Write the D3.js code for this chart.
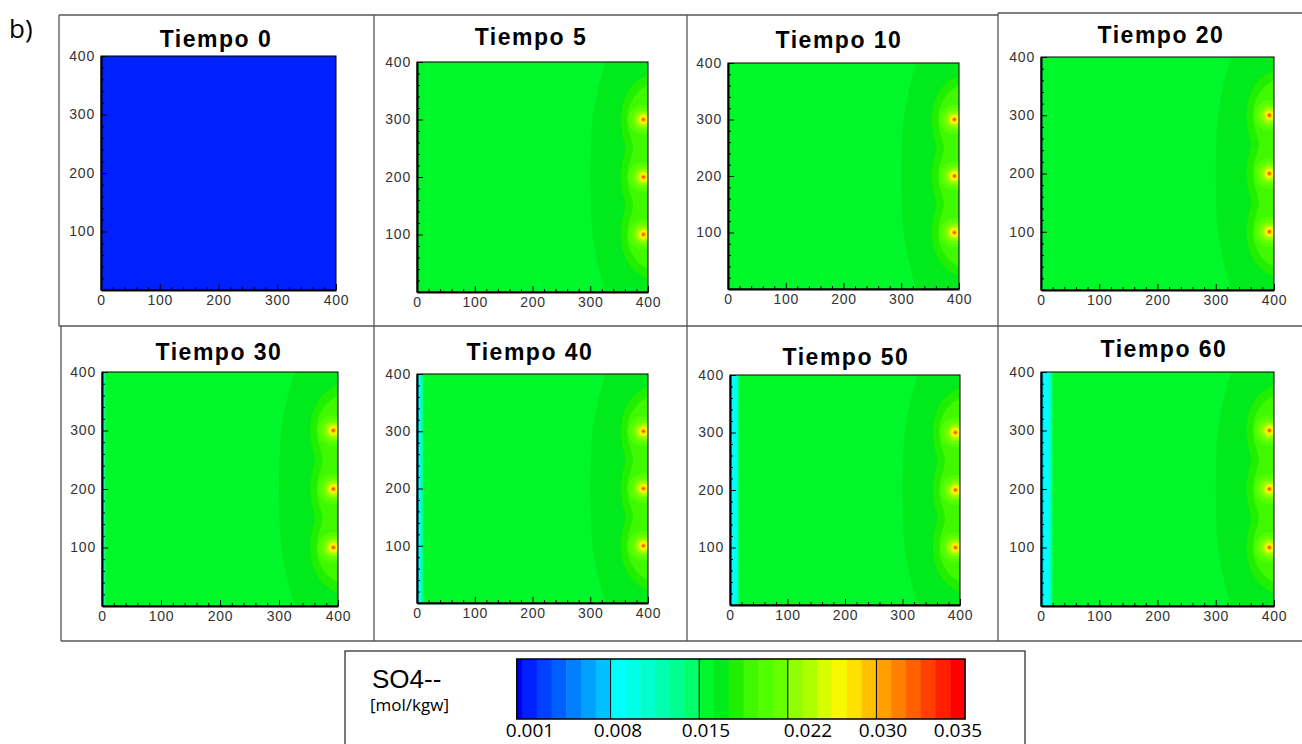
<!DOCTYPE html>
<html>
<head>
<meta charset="utf-8">
<script src="https://cdn.jsdelivr.net/npm/d3@7/dist/d3.min.js"></script>
<style>
  body { margin: 0; background: #fff; }
  svg { display: block; }
</style>
</head>
<body>
<script>
//Panel times (years) - one map per time step
var times = [0, 5, 10, 20, 30, 40, 50, 60];
var titles = times.map(function(t) { return "Tiempo " + t; });

//Background SO4-- concentration of each map (mol/kgw)
var baseConc = [0.0012, 0.015, 0.015, 0.015, 0.015, 0.015, 0.015, 0.015];

//Left boundary front: concentration levels and how far (m) each reaches per panel
var stripLevels = [0.0135, 0.0125, 0.0113, 0.0100, 0.0088, 0.0075];
var stripWidths = [
  [0, 0, 0, 0, 0, 0],
  [0, 0, 0, 0, 0, 0],
  [0, 0, 0, 0, 0, 0],
  [2.5, 2, 1.5, 1, 0.5, 0],
  [6, 5, 4, 3, 2, 0.8],
  [11, 10, 9, 7.5, 5, 1.5],
  [16, 15, 13.5, 12, 9, 2.5],
  [20, 18.5, 17, 15.5, 13, 4]
];

//Right side plume is there from Tiempo 5 on
var hasPlume = [false, true, true, true, true, true, true, true];

//Outer plume front (x, y in m)
var frontConc = 0.0162;
var frontPts = [[326, 0], [313, 50], [304, 100], [300, 200], [304, 300], [313, 350], [326, 400]];

//Wavy contours around the three injection wells
var lobeOuterConc = 0.0175;
var lobeOuterPts = [[400, 22], [386, 30], [372, 42], [361, 60], [355, 80], [353, 100], [355, 122], [359, 140],
  [361, 150], [359, 160], [355, 178], [353, 200], [355, 222], [359, 240], [361, 250], [359, 260], [355, 278],
  [353, 300], [355, 320], [361, 340], [372, 358], [386, 370], [400, 378]];
var lobeMidConc = 0.0185;
var lobeMidPts = [[400, 40], [385, 50], [373, 65], [366, 82], [364, 100], [366, 118], [371, 135], [374, 150],
  [371, 165], [366, 182], [364, 200], [366, 218], [371, 235], [374, 250], [371, 265], [366, 282], [364, 300],
  [366, 318], [373, 335], [385, 350], [400, 360]];

//Wells and the rings of concentration round them
var wellX = [392, 392, 392];
var wellY = [100, 200, 300];
var ringConc = [0.0197, 0.0208, 0.022, 0.0232, 0.0243, 0.0255, 0.0267, 0.0278, 0.0303, 0.0326];
var ringRadius = [26, 20, 15, 11, 8.5, 6.5, 5, 3.8, 2.8, 1.8];

//Axes
var xTicks = [0, 100, 200, 300, 400];
var yTicks = [100, 200, 300, 400];
var minorTicks = d3.range(20, 400, 20).filter(function(d) { return d % 100 !== 0; });

//Legend
var legendMin = 0.001, legendMax = 0.035, legendUnder = 0.0006;
var legendTicks = [0.001, 0.008, 0.015, 0.022, 0.030, 0.035];
var legendTickLabels = ["0.001", "0.008", "0.015", "0.022", "0.030", "0.035"];
var legendTitle = "SO4--";
var legendUnit = "[mol/kgw]";

//Colour bands of the scale (30 bands plus the under colour)
var underColour = "#0000e6";
var bandColours = [
  "#0020ff", "#0040ff", "#0060ff", "#0080ff", "#00a0ff", "#00c0ff",
  "#00ffff", "#00ffe6", "#00ffcc", "#00ffb0", "#00ff90", "#00ff6a",
  "#00f82a", "#00ea1c", "#20f000", "#40f800", "#50ff00", "#68ff00",
  "#90ff00", "#b0ff00", "#d8ff00", "#f8f800", "#ffe000", "#ffc000",
  "#ffa000", "#ff8000", "#ff6000", "#ff4000", "#ff2000", "#ff0000"
];
var colour = d3.scaleQuantize().domain([legendMin, legendMax]).range(bandColours);

//Where every panel sits in the composite (plot box and title)
var layout = [
  { x0: 101, x1: 336, y0: 56, y1: 290, tx: 216, ty: 47 },
  { x0: 417, x1: 648, y0: 62, y1: 292, tx: 531, ty: 45 },
  { x0: 728, x1: 959, y0: 63, y1: 289, tx: 839, ty: 48 },
  { x0: 1041, x1: 1274, y0: 57, y1: 290, tx: 1161, ty: 43 },
  { x0: 102, x1: 338, y0: 372, y1: 606, tx: 219, ty: 360 },
  { x0: 417, x1: 648, y0: 374, y1: 603, tx: 530, ty: 360 },
  { x0: 730, x1: 960, y0: 375, y1: 605, tx: 846, ty: 365 },
  { x0: 1041, x1: 1274, y0: 372, y1: 606, tx: 1164, ty: 357 }
];

var width = 1302, height = 744;

var svg = d3.select("body").append("svg")
  .attr("width", width)
  .attr("height", height);

//Frames round the panels
var gridLines = [
  [59, 15, 998, 15], [998, 13, 1302, 13],
  [59, 15, 59, 326], [374, 15, 374, 641], [687, 15, 687, 641], [998, 13, 998, 641],
  [59, 326, 1302, 326], [61, 326, 61, 641], [61, 641, 1302, 641]
];
svg.selectAll(".grid")
  .data(gridLines)
  .enter().append("line")
  .attr("class", "grid")
  .attr("x1", function(d) { return d[0]; })
  .attr("y1", function(d) { return d[1]; })
  .attr("x2", function(d) { return d[2]; })
  .attr("y2", function(d) { return d[3]; })
  .attr("stroke", "#555")
  .attr("stroke-width", 1.3);

svg.append("text")
  .attr("x", 9)
  .attr("y", 38)
  .style("font-family", "'Open Sans', sans-serif")
  .style("font-size", "26px")
  .text("b)");

times.forEach(function(t, i) {
  var L = layout[i];
  var x = d3.scaleLinear().domain([0, 400]).range([L.x0, L.x1]);
  var y = d3.scaleLinear().domain([0, 400]).range([L.y1, L.y0]);

  var g = svg.append("g").attr("class", "panel");

  g.append("clipPath")
    .attr("id", "clip" + i)
    .append("rect")
    .attr("x", L.x0).attr("y", L.y0)
    .attr("width", L.x1 - L.x0).attr("height", L.y1 - L.y0);

  var field = g.append("g").attr("clip-path", "url(#clip" + i + ")");

  //background
  field.append("rect")
    .attr("x", x(0)).attr("y", y(400))
    .attr("width", x(400) - x(0)).attr("height", y(0) - y(400))
    .attr("fill", colour(baseConc[i]));

  //left boundary front
  field.selectAll(".strip")
    .data(stripLevels.map(function(c, k) { return { conc: c, w: stripWidths[i][k] }; })
      .filter(function(d) { return d.w > 0; }))
    .enter().append("rect")
    .attr("class", "strip")
    .attr("x", x(0)).attr("y", y(400))
    .attr("width", function(d) { return x(d.w) - x(0); })
    .attr("height", y(0) - y(400))
    .attr("fill", function(d) { return colour(d.conc); });

  if (hasPlume[i]) {
    var line = d3.line()
      .x(function(d) { return x(d[0]); })
      .y(function(d) { return y(d[1]); })
      .curve(d3.curveCatmullRom);

    //outer front, closed along the right side
    field.append("path")
      .attr("d", line(frontPts) + "L" + x(400) + "," + y(400) + "L" + x(400) + "," + y(0) + "Z")
      .attr("fill", colour(frontConc));

    field.append("path")
      .attr("d", line(lobeOuterPts) + "Z")
      .attr("fill", colour(lobeOuterConc));

    field.append("path")
      .attr("d", line(lobeMidPts) + "Z")
      .attr("fill", colour(lobeMidConc));

    ringConc.forEach(function(c, k) {
      field.selectAll(".ring" + k)
        .data(wellY)
        .enter().append("ellipse")
        .attr("class", "ring" + k)
        .attr("cx", function(d, j) { return x(wellX[j]); })
        .attr("cy", function(d) { return y(d); })
        .attr("rx", x(ringRadius[k]) - x(0))
        .attr("ry", y(0) - y(ringRadius[k]))
        .attr("fill", colour(c));
    });
  }

  //frame
  g.append("rect")
    .attr("x", L.x0).attr("y", L.y0)
    .attr("width", L.x1 - L.x0).attr("height", L.y1 - L.y0)
    .attr("fill", "none")
    .attr("stroke", "#000")
    .attr("stroke-width", 1);

  //minor ticks
  g.append("g")
    .attr("transform", "translate(0," + L.y1 + ")")
    .call(d3.axisBottom(x).tickValues(minorTicks).tickSize(-3).tickSizeOuter(0).tickFormat(""))
    .call(function(a) { a.select(".domain").remove(); });
  g.append("g")
    .attr("transform", "translate(" + L.x0 + ",0)")
    .call(d3.axisLeft(y).tickValues(minorTicks).tickSize(-3).tickSizeOuter(0).tickFormat(""))
    .call(function(a) { a.select(".domain").remove(); });

  //major ticks and labels
  var xa = g.append("g")
    .attr("transform", "translate(0," + L.y1 + ")")
    .call(d3.axisBottom(x).tickValues(xTicks).tickSize(-6).tickSizeOuter(0).tickPadding(5).tickFormat(d3.format("d")));
  var ya = g.append("g")
    .attr("transform", "translate(" + L.x0 + ",0)")
    .call(d3.axisLeft(y).tickValues(yTicks).tickSize(-6).tickSizeOuter(0).tickPadding(6).tickFormat(d3.format("d")));

  [xa, ya].forEach(function(a) {
    a.select(".domain").attr("stroke", "#000").attr("stroke-width", 2);
    a.selectAll("text")
      .attr("fill", "#333")
      .style("font-family", "'Liberation Sans', Arial, sans-serif")
      .style("font-size", "14px")
      .style("letter-spacing", "0.8px");
  });

  g.append("text")
    .attr("x", L.tx)
    .attr("y", L.ty)
    .attr("text-anchor", "middle")
    .style("font-family", "'Liberation Sans', Arial, sans-serif")
    .style("font-weight", "bold")
    .style("font-size", "23px")
    .style("letter-spacing", "1.5px")
    .text(titles[i]);
});

//Legend
var leg = svg.append("g").attr("class", "legend");
leg.append("rect")
  .attr("x", 345).attr("y", 651)
  .attr("width", 680).attr("height", 110)
  .attr("fill", "#fff")
  .attr("stroke", "#222")
  .attr("stroke-width", 1.2);

leg.append("text")
  .attr("x", 372).attr("y", 688)
  .style("font-family", "'Liberation Sans', Arial, sans-serif")
  .style("font-size", "26px")
  .text(legendTitle);
leg.append("text")
  .attr("x", 370).attr("y", 711)
  .style("font-family", "'Open Sans', sans-serif")
  .style("font-size", "17px")
  .text(legendUnit);

var barX = d3.scaleLinear().domain([legendMin, legendMax]).range([522, 965]);
var barTop = 659, barBottom = 719;
var step = (legendMax - legendMin) / bandColours.length;

leg.append("rect")
  .attr("x", barX(legendUnder)).attr("y", barTop)
  .attr("width", barX(legendMin) - barX(legendUnder)).attr("height", barBottom - barTop)
  .attr("fill", underColour);

leg.selectAll(".band")
  .data(bandColours)
  .enter().append("rect")
  .attr("class", "band")
  .attr("x", function(d, k) { return barX(legendMin + k * step); })
  .attr("y", barTop)
  .attr("width", function(d, k) { return barX(legendMin + (k + 1) * step) - barX(legendMin + k * step) + 0.5; })
  .attr("height", barBottom - barTop)
  .attr("fill", function(d) { return d; });

//block dividers every six bands
leg.selectAll(".divider")
  .data([1, 2, 3, 4])
  .enter().append("line")
  .attr("class", "divider")
  .attr("x1", function(d) { return barX(legendMin + d * 6 * step); })
  .attr("x2", function(d) { return barX(legendMin + d * 6 * step); })
  .attr("y1", barTop).attr("y2", barBottom)
  .attr("stroke", "#000")
  .attr("stroke-width", 1);

leg.append("rect")
  .attr("x", barX(legendUnder)).attr("y", barTop)
  .attr("width", barX(legendMax) - barX(legendUnder)).attr("height", barBottom - barTop)
  .attr("fill", "none")
  .attr("stroke", "#000")
  .attr("stroke-width", 1.5);

//tick labels are set a little unevenly under the bar
var labelX = d3.scaleLinear()
  .domain([0.001, 0.015, 0.022, 0.030, 0.035])
  .range([530, 706, 808, 883, 958]);
leg.selectAll(".tick-label")
  .data(legendTicks)
  .enter().append("text")
  .attr("class", "tick-label")
  .attr("x", function(d) { return labelX(d); })
  .attr("y", 737)
  .attr("text-anchor", "middle")
  .style("font-family", "'Open Sans', sans-serif")
  .style("font-size", "19px")
  .text(function(d, k) { return legendTickLabels[k]; });
</script>
</body>
</html>
